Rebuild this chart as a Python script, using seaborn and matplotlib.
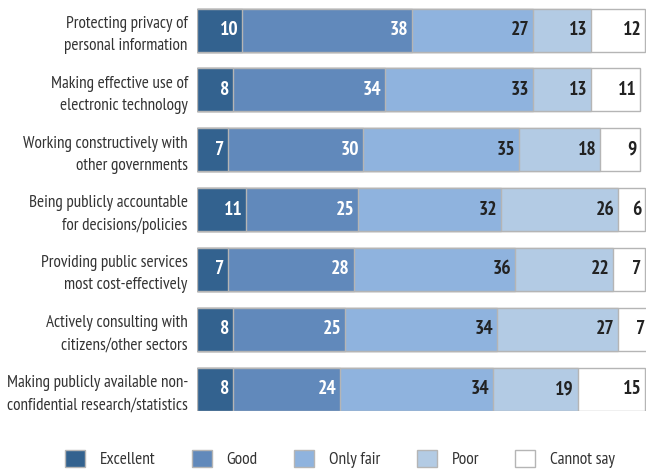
import numpy as np
import pandas as pd
import seaborn as sns
import matplotlib.pyplot as plt
from matplotlib.patches import Patch

# data
tasks = [
    "Protecting privacy of\npersonal information",
    "Making effective use of\nelectronic technology",
    "Working constructively with\nother governments",
    "Being publicly accountable\nfor decisions/policies",
    "Providing public services\nmost cost-effectively",
    "Actively consulting with\ncitizens/other sectors",
    "Making publicly available non-\nconfidential research/statistics",
]
ratings = ["Excellent", "Good", "Only fair", "Poor", "Cannot say"]
excellent = [10, 8, 7, 11, 7, 8, 8]
good = [38, 34, 30, 25, 28, 25, 24]
only_fair = [27, 33, 35, 32, 36, 34, 34]
poor = [13, 13, 18, 26, 22, 27, 19]
cannot_say = [12, 11, 9, 6, 7, 7, 15]

colors = ["#33628f", "#6189bb", "#8fb3de", "#b3cbe4", "#ffffff"]
text_colors = ["white", "white", "#222222", "#222222", "#222222"]
edge = "#b5b5b5"

sns.set_style("white")
plt.rcParams["font.family"] = ["PT Sans Narrow", "DejaVu Sans"]

df = pd.DataFrame({"task": tasks, "Excellent": excellent, "Good": good,
                   "Only fair": only_fair, "Poor": poor, "Cannot say": cannot_say})
cum = df[ratings].cumsum(axis=1)

fig = plt.figure(figsize=(6.54, 4.71), dpi=100)
ax = fig.add_axes([0.301, 0.127, 0.687, 0.856])

# draw the cumulative bars from the longest to the shortest so each layer shows
for r, c in reversed(list(zip(ratings, colors))):
    sns.barplot(x=cum[r], y=df["task"], color=c, orient="h", width=0.72,
                edgecolor=edge, linewidth=1.0, saturation=1, ax=ax)

for i in range(len(tasks)):
    for r, tc in zip(ratings, text_colors):
        ax.text(cum.loc[i, r] - 0.8, i, str(df.loc[i, r]), ha="right", va="center",
                color=tc, fontsize=14, fontweight="bold")

ax.set_xlim(0, 100.3)
ax.set_ylim(6.37, -0.37)
ax.set_xlabel("")
ax.set_ylabel("")
ax.set_xticks([])
ax.tick_params(axis="y", length=0, pad=6.5, labelsize=12.3, labelcolor="#333333")
for lbl in ax.get_yticklabels():
    lbl.set_horizontalalignment("right")
    lbl.set_multialignment("right")
    lbl.set_linespacing(1.5)
sns.despine(ax=ax, left=True, bottom=True)

handles = [Patch(facecolor=c, edgecolor=edge, label=r) for r, c in zip(ratings, colors)]
fig.legend(handles=handles, loc="center", bbox_to_anchor=(0.52, 0.026), ncol=5,
           frameon=False, fontsize=12.5, handlelength=1.15, handleheight=1.15,
           handletextpad=0.85, columnspacing=2.1, labelcolor="#333333")

fig.savefig("out.png", dpi=100)
